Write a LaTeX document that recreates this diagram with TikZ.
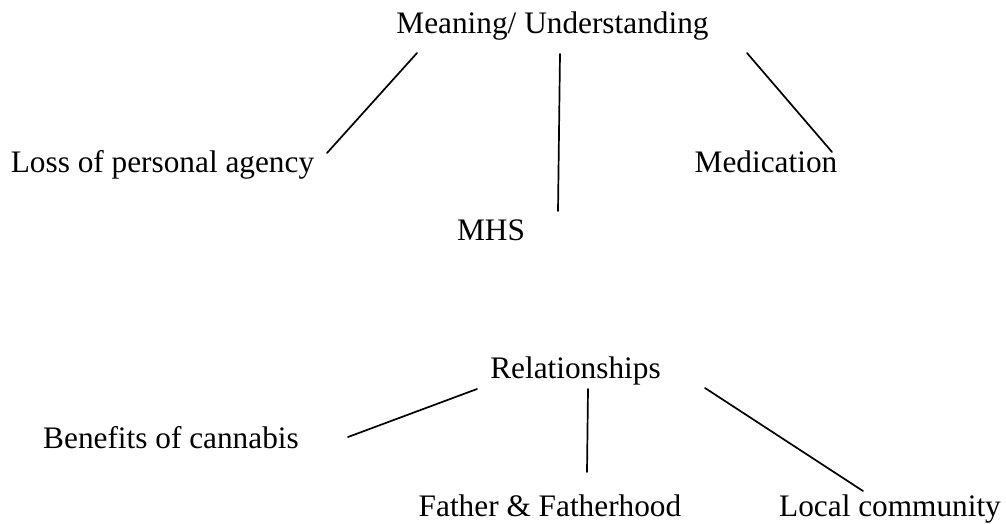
\documentclass[tikz,border=0pt]{standalone}
\usepackage{fontspec}
\setmainfont{Liberation Serif}
\begin{document}
\begin{tikzpicture}[x=1pt,y=-1pt,
  label text/.style={anchor=base,inner sep=0pt,font=\fontsize{31.3}{36}\selectfont},
  link/.style={line width=1.7pt,line cap=round}]
\useasboundingbox (0,0) rectangle (1006,523);

% upper tree
\node[label text] (mu)  at (552.5,33)  {Meaning/ Understanding};
\node[label text] (lpa) at (162.5,172) {Loss of personal agency};
\node[label text] (med) at (766,172)   {Medication};
\node[label text] (mhs) at (491,240)   {MHS};

% lower tree
\node[label text] (rel) at (575.5,378) {Relationships};
\node[label text] (ben) at (171,448)   {Benefits of cannabis};
\node[label text] (fat) at (550,516)   {Father \& Fatherhood};
\node[label text] (loc) at (890,516)   {Local community};

% connector ends
\coordinate (mu-a)  at (417,53);
\coordinate (lpa-a) at (327,153);
\coordinate (mu-b)  at (560,54);
\coordinate (mhs-a) at (558,211);
\coordinate (mu-c)  at (747,53);
\coordinate (med-a) at (832,152);

\coordinate (rel-a) at (477,389);
\coordinate (ben-a) at (348,437);
\coordinate (rel-b) at (588,389);
\coordinate (fat-a) at (587,472);
\coordinate (rel-c) at (705,388);
\coordinate (loc-a) at (863,491);

\draw[link] (mu-a) -- (lpa-a);
\draw[link] (mu-b) -- (mhs-a);
\draw[link] (mu-c) -- (med-a);
\draw[link] (rel-a) -- (ben-a);
\draw[link] (rel-b) -- (fat-a);
\draw[link] (rel-c) -- (loc-a);
\end{tikzpicture}
\end{document}
